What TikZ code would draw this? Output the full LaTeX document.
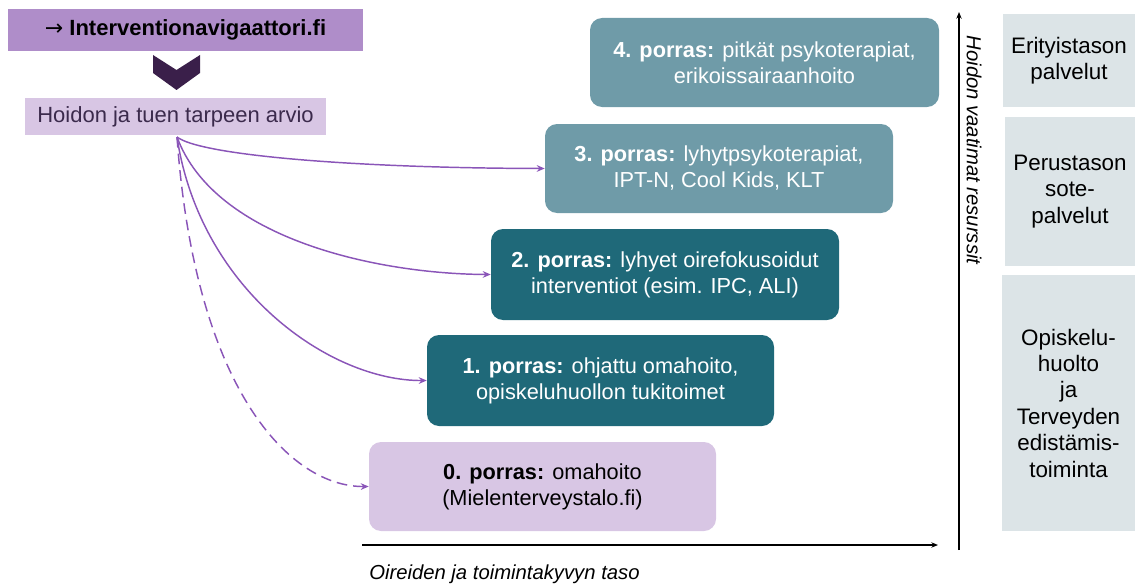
\documentclass[tikz,border=0pt]{standalone}
\usepackage{fontspec}
\setmainfont{Liberation Sans}
\newfontfamily\arrowfont{DejaVu Sans}
\usetikzlibrary{arrows.meta}
\definecolor{topviolet}{HTML}{AF8DC9}
\definecolor{lav}{HTML}{D8C6E4}
\definecolor{tealL}{HTML}{6F9BA8}
\definecolor{tealD}{HTML}{1F6979}
\definecolor{grayb}{HTML}{DCE4E7}
\definecolor{chev}{HTML}{3A1F4A}
\definecolor{darkp}{HTML}{3B2A4C}
\definecolor{arr}{HTML}{8A55B8}
\tikzset{
  stepbox/.style={rounded corners=12*0.75pt, inner sep=0pt, align=center, font=\fontsize{16.3}{19.5}\selectfont},
  sidebox/.style={fill=grayb, inner sep=0pt, align=center, font=\fontsize{16.8}{19.8}\selectfont},
  flow/.style={draw=arr, line width=1.1pt, -{Stealth[length=6pt,width=5pt]}},
  axis/.style={draw=black, line width=0.9pt, -{Stealth[length=5pt,width=4pt]}}
}
\begin{document}
\begin{tikzpicture}[x=0.75pt,y=-0.75pt]
\useasboundingbox (0,0) rectangle (1135,585);
% top boxes
\node[fill=topviolet, minimum width=355*0.75pt, minimum height=42*0.75pt, inner sep=0pt, font=\fontsize{16.5}{18}\bfseries] (nav) at (185.5,30) {{\arrowfont\mdseries →} Interventionavigaattori.fi};
\path[fill=chev] (153,55) -- (176.5,70) -- (200,55) -- (200,73) -- (176.5,90) -- (153,73) -- cycle;
\node[fill=lav, minimum width=301*0.75pt, minimum height=37*0.75pt, inner sep=0pt, text=darkp, font=\fontsize{16.5}{18}\selectfont] (arvio) at (175.5,116.5) {Hoidon ja tuen tarpeen arvio};
\coordinate (src) at (177,137);
% steps
\node[stepbox, fill=tealL, text=white, minimum width=349*0.75pt, minimum height=89*0.75pt] (s4) at (764.5,62.5) {\textbf{4. porras:} pitkät psykoterapiat,\\erikoissairaanhoito};
\node[stepbox, fill=tealL, text=white, minimum width=348*0.75pt, minimum height=89*0.75pt] (s3) at (719,168.5) {\textbf{3. porras:} lyhytpsykoterapiat,\\IPT-N, Cool Kids, KLT};
\node[stepbox, fill=tealD, text=white, minimum width=348*0.75pt, minimum height=91*0.75pt] (s2) at (665,274.5) {\textbf{2. porras:} lyhyet oirefokusoidut\\interventiot (esim. IPC, ALI)};
\node[stepbox, fill=tealD, text=white, minimum width=347*0.75pt, minimum height=91*0.75pt] (s1) at (600.5,380.5) {\textbf{1. porras:} ohjattu omahoito,\\opiskeluhuollon tukitoimet};
\node[stepbox, fill=lav, text=black, minimum width=347*0.75pt, minimum height=89*0.75pt] (s0) at (542.5,486.5) {\textbf{0. porras:} omahoito\\(Mielenterveystalo.fi)};
% connectors
\draw[flow] (src) .. controls (200,155) and (350,168) .. (s3.west);
\draw[flow] (src) .. controls (215,240) and (380,274) .. (s2.west);
\draw[flow] (src) .. controls (200,290) and (330,381) .. (s1.west);
\draw[flow, dash pattern=on 8pt off 4.5pt] (src) .. controls (195,390) and (290,487) .. (s0.west);
% axes
\coordinate (xa) at (362,545);
\coordinate (xb) at (938,545);
\coordinate (ya) at (959,550);
\coordinate (yb) at (959,12);
\draw[axis] (xa) -- (xb);
\draw[axis] (ya) -- (yb);
\node[anchor=west, font=\fontsize{15.2}{17}\itshape, inner sep=0pt] (xlab) at (369,574) {Oireiden ja toimintakyvyn taso};
\node[rotate=-90, font=\fontsize{15.2}{17}\itshape, inner sep=0pt] (ylab) at (974,150) {Hoidon vaatimat resurssit};
% side boxes
\node[sidebox, minimum width=132*0.75pt, minimum height=93*0.75pt] (r1) at (1069,60.5) {Erityistason\\palvelut};
\node[sidebox, minimum width=130*0.75pt, minimum height=149*0.75pt] (r2) at (1070,191.5) {Perustason\\sote-\\palvelut};
\node[sidebox, minimum width=133*0.75pt, minimum height=256*0.75pt] (r3) at (1068.5,403) {Opiskelu-\\huolto\\ja\\Terveyden\\edistämis-\\toiminta};
\end{tikzpicture}
\end{document}
